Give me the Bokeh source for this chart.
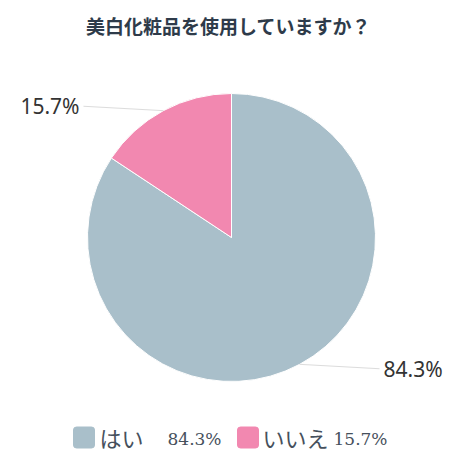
import math
from bokeh.plotting import figure
from bokeh.models import Range1d, ColumnDataSource
from bokeh.core.properties import value
from bokeh.embed import file_html
from bokeh.resources import INLINE

title_text = "美白化粧品を使用していますか？"
categories = ["はい", "いいえ"]
values = [84.3, 15.7]
colors = ["#a9bfca", "#f288b0"]

W, H = 449, 452
p = figure(width=W, height=H, output_backend="svg", toolbar_location=None,
           x_range=Range1d(0, W), y_range=Range1d(0, H), min_border=0)
p.axis.visible = False
p.grid.visible = False
p.outline_line_color = None
p.background_fill_color = "white"
p.border_fill_color = "white"

cx, cy, r = 231, H - 237, 144
total = sum(values)
cum = 0.0
starts, ends, mids = [], [], []
for v in values:
    a0 = math.pi / 2 - 2 * math.pi * (cum + v) / total
    a1 = math.pi / 2 - 2 * math.pi * cum / total
    starts.append(a0)
    ends.append(a1)
    mids.append((a0 + a1) / 2)
    cum += v

src = ColumnDataSource(dict(start=starts, end=ends, color=colors, cat=categories))
p.wedge(x=cx, y=cy, radius=r, start_angle="start", end_angle="end",
        fill_color="color", line_color="white", line_width=1, source=src)

# data labels with connectors
for v, m in zip(values, mids):
    c, s = math.cos(m), math.sin(m)
    sign = 1 if c >= 0 else -1
    ex, ey = cx + r * c, cy + r * s
    ly = cy + (r + 5) * s
    lx = cx + sign * (r + 8)
    p.line([ex, cx + sign * (r + 4)], [ey, ly], line_color="#dcdcdc", line_width=1)
    p.text(x=[lx], y=[ly], text=[f"{v}%"], text_align="left" if sign > 0 else "right",
           text_baseline="middle", text_font=value("Noto Sans"), text_font_size="21px",
           text_color="#333333")

# title
p.text(x=[228], y=[H - 25], text=[title_text], text_align="center",
       text_baseline="middle", text_font=value("Noto Sans CJK JP"),
       text_font_style="bold", text_font_size="19px", text_color="#2e3b4a")

# legend
ly = H - 437
sw_x = [73, 237]
name_x = [99, 262]
val_x = [167, 333]
for i in range(len(categories)):
    p.rect(x=[sw_x[i] + 10.5], y=[ly], width=21, height=21, fill_color=colors[i],
           line_color=colors[i], border_radius=3)
    p.text(x=[name_x[i]], y=[ly + 1], text=[categories[i]], text_align="left",
           text_baseline="middle", text_font=value("Noto Sans CJK JP"),
           text_font_style="normal", text_font_size="22px", text_color="#46505c")
    p.text(x=[val_x[i]], y=[ly - 1], text=[f"{values[i]}%"], text_align="left",
           text_baseline="middle", text_font=value("DejaVu Serif"),
           text_font_size="17px", text_color="#46505c")

open("out.html", "w").write(file_html(p, INLINE))
